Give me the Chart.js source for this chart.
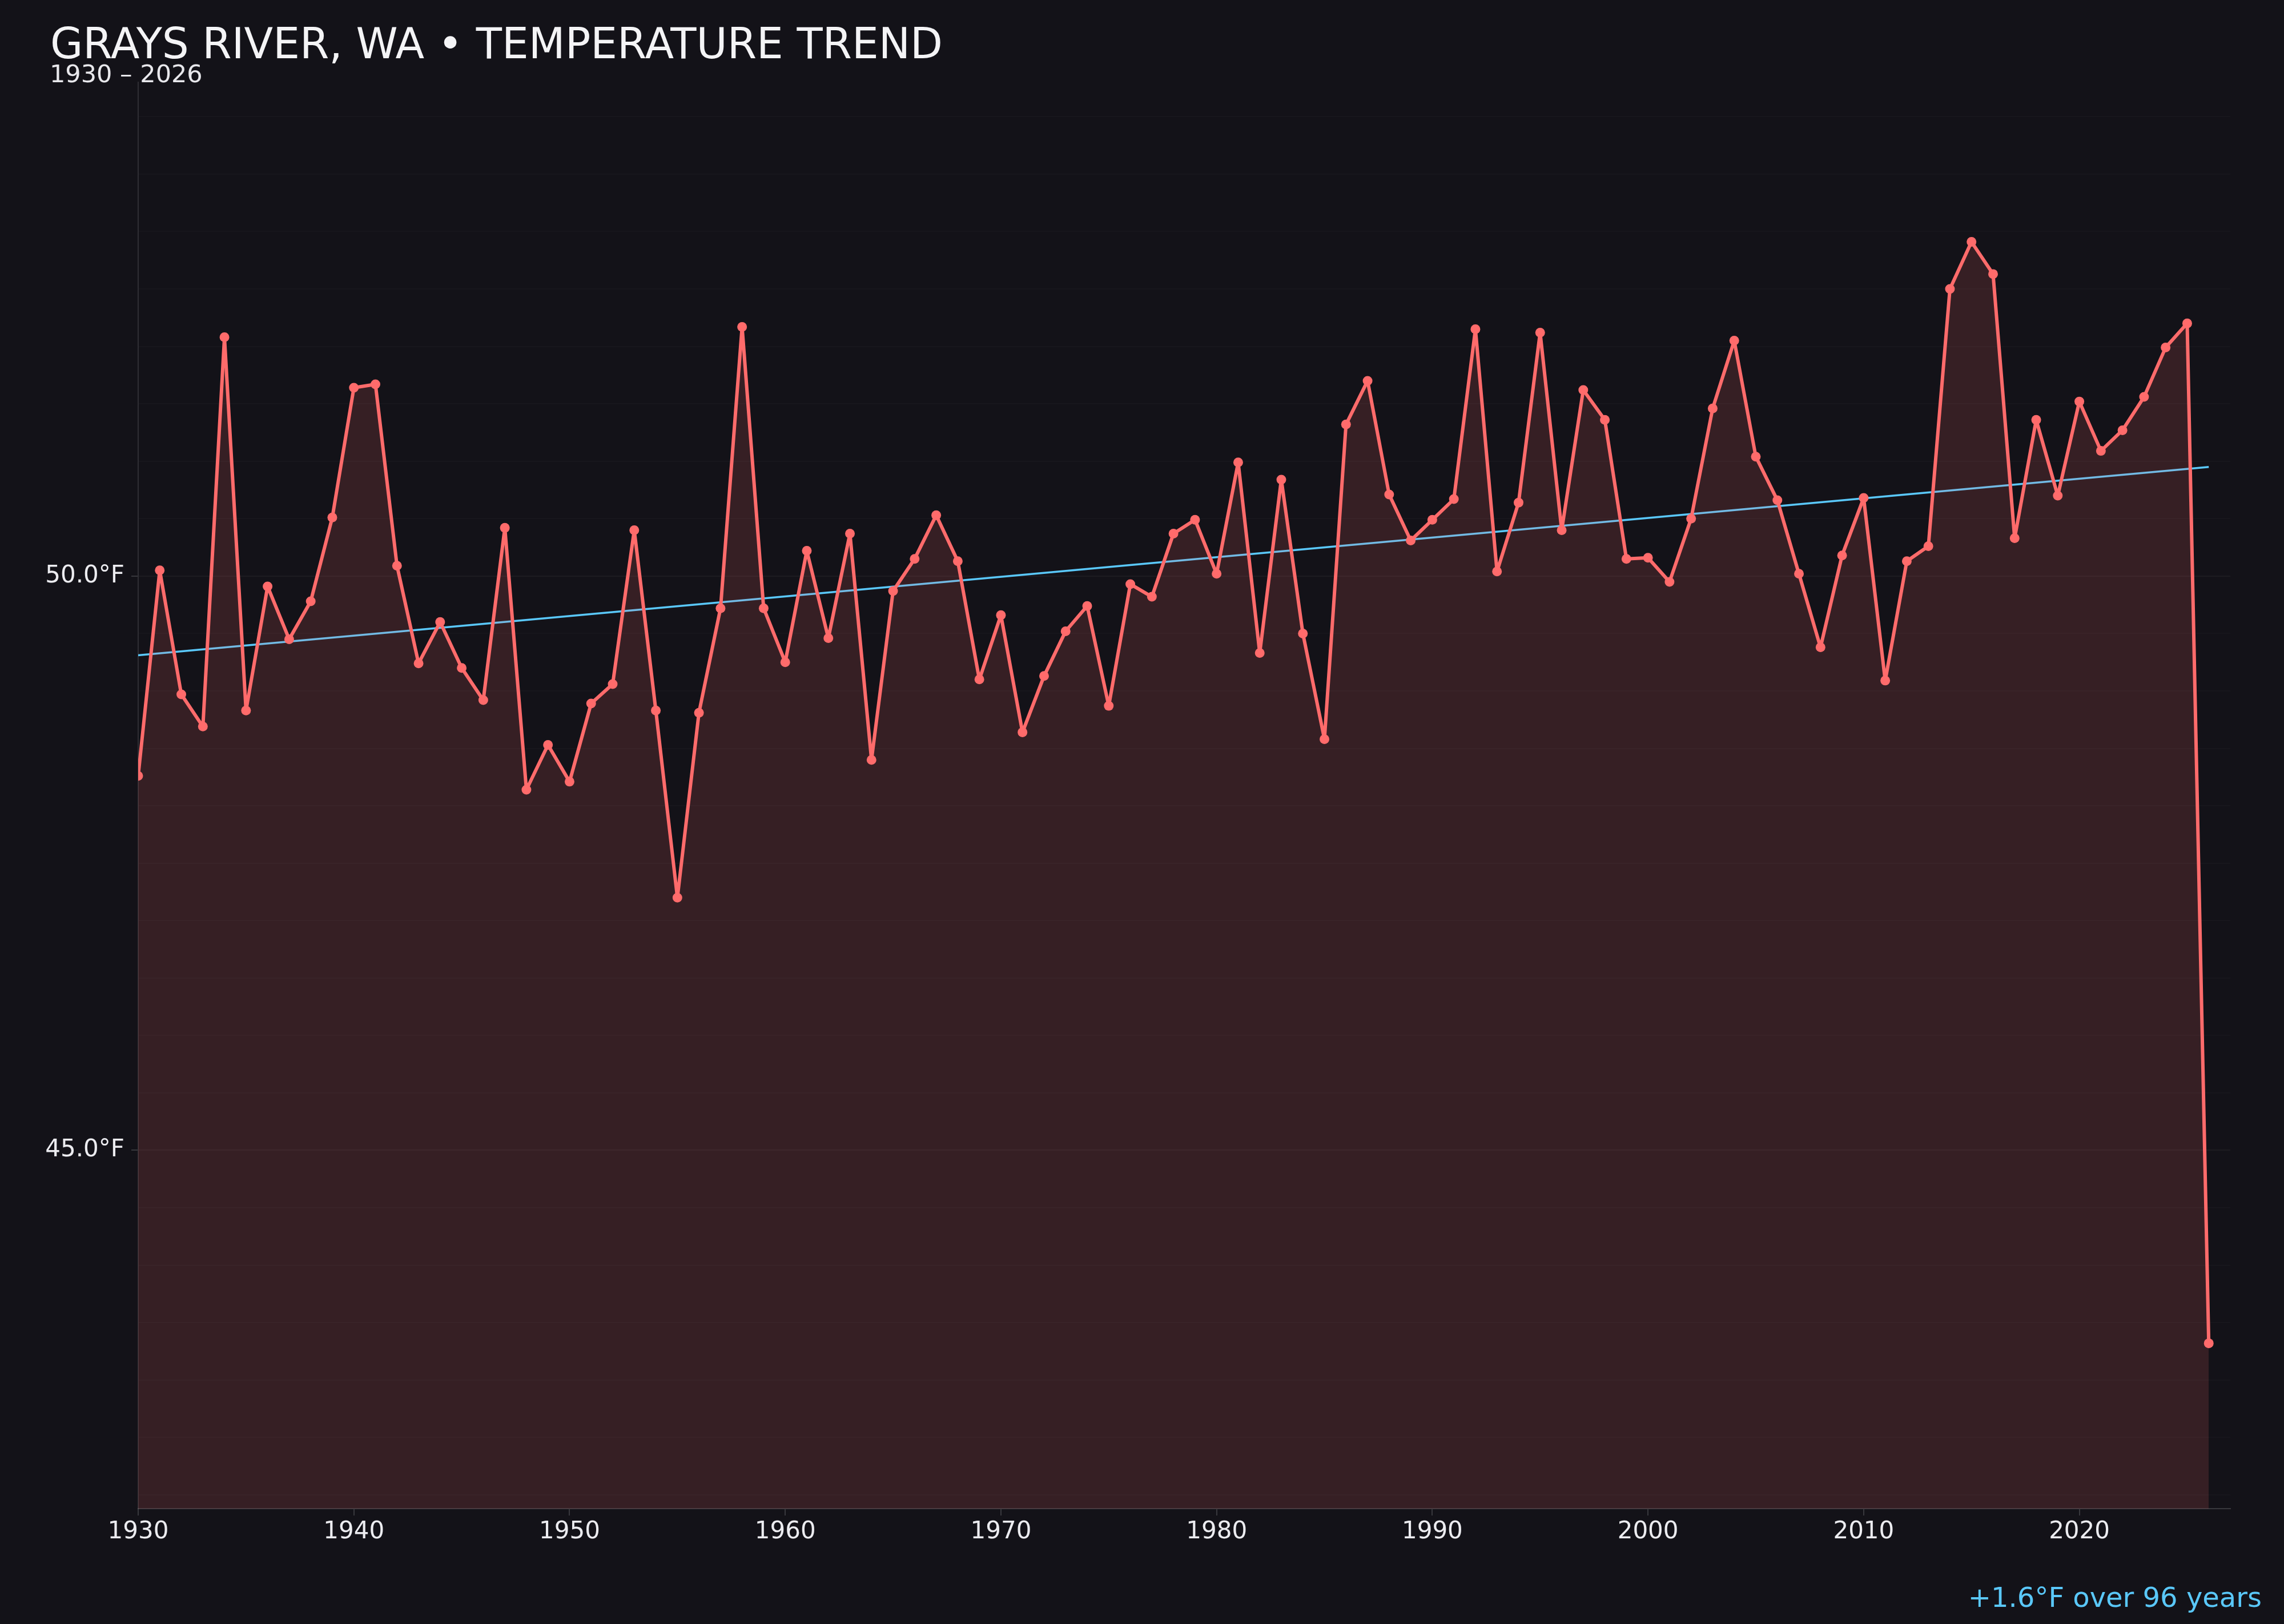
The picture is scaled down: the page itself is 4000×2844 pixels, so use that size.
<!DOCTYPE html>
<html lang="en">
<head>
    <meta charset="UTF-8">
    <title>Grays River temperature trend</title>
    <script src="https://cdn.jsdelivr.net/npm/chart.js@4.4.1/dist/chart.umd.min.js"></script>
    <style>
        html, body { margin: 0; padding: 0; background: #131218; overflow: hidden; }
        #chart { display: block; width: 4000px; height: 2844px; }
    </style>
</head>
<body>
    <canvas id="chart" width="4000" height="2844"></canvas>
    <script>
    // yearly mean temperature
    const years = [
        1930, 1931, 1932, 1933, 1934, 1935, 1936, 1937, 1938, 1939,
        1940, 1941, 1942, 1943, 1944, 1945, 1946, 1947, 1948, 1949,
        1950, 1951, 1952, 1953, 1954, 1955, 1956, 1957, 1958, 1959,
        1960, 1961, 1962, 1963, 1964, 1965, 1966, 1967, 1968, 1969,
        1970, 1971, 1972, 1973, 1974, 1975, 1976, 1977, 1978, 1979,
        1980, 1981, 1982, 1983, 1984, 1985, 1986, 1987, 1988, 1989,
        1990, 1991, 1992, 1993, 1994, 1995, 1996, 1997, 1998, 1999,
        2000, 2001, 2002, 2003, 2004, 2005, 2006, 2007, 2008, 2009,
        2010, 2011, 2012, 2013, 2014, 2015, 2016, 2017, 2018, 2019,
        2020, 2021, 2022, 2023, 2024, 2025, 2026
    ];
    const temps = [
        48.26, 50.05, 48.97, 48.69, 52.08, 48.83, 49.91, 49.45, 49.78, 50.51,
        51.64, 51.67, 50.09, 49.24, 49.60, 49.20, 48.92, 50.42, 48.14, 48.53,
        48.21, 48.89, 49.06, 50.40, 48.83, 47.20, 48.81, 49.72, 52.17, 49.72,
        49.25, 50.22, 49.46, 50.37, 48.40, 49.87, 50.15, 50.53, 50.13, 49.10,
        49.66, 48.64, 49.13, 49.52, 49.74, 48.87, 49.93, 49.82, 50.37, 50.49,
        50.02, 50.99, 49.33, 50.84, 49.50, 48.58, 51.32, 51.70, 50.71, 50.31,
        50.49, 50.67, 52.15, 50.04, 50.64, 52.12, 50.40, 51.62, 51.36, 50.15,
        50.16, 49.95, 50.50, 51.46, 52.05, 51.04, 50.66, 50.02, 49.38, 50.18,
        50.68, 49.09, 50.13, 50.26, 52.50, 52.91, 52.63, 50.33, 51.36, 50.70,
        51.52, 51.09, 51.27, 51.56, 51.99, 52.20, 43.32
    ];
    // end points of the linear trend line
    const trendYears = [1930, 2026];
    const trendTemps = [49.31, 50.95];

    const yMin = 41.88, yMax = 54.30;
    const xMin = 1930, xMax = 2027;
    const labelTicks = [45, 50];

    const FONT = '"DejaVu Sans", sans-serif';

    const series = years.map((yr, i) => ({ x: yr, y: temps[i] }));
    const trend = trendYears.map((yr, i) => ({ x: yr, y: trendTemps[i] }));

    // title, subtitle and the trend note
    const textPlugin = {
        id: 'texts',
        afterDraw(chart) {
            const c = chart.ctx;
            c.save();
            c.textBaseline = 'alphabetic';
            c.textAlign = 'left';
            c.fillStyle = '#f4f4f6';
            c.font = '74px ' + FONT;
            c.fillText('GRAYS RIVER, WA \u2022 TEMPERATURE TREND', 88, 102);
            c.fillStyle = '#e8e8ec';
            c.font = '43px ' + FONT;
            c.fillText('1930 \u2013 2026', 87, 144);
            c.textAlign = 'right';
            c.fillStyle = '#5ac8fa';
            c.font = '48px ' + FONT;
            c.fillText('+1.6\u00b0F over 96 years', 3961, 2814);
            c.restore();
        }
    };

    Chart.defaults.font.family = FONT;

    new Chart(document.getElementById('chart'), {
        type: 'line',
        data: {
            datasets: [
                {
                    data: series,
                    borderColor: '#ff6b6b',
                    backgroundColor: 'rgba(255,107,107,0.15)',
                    borderWidth: 6,
                    borderJoinStyle: 'round',
                    borderCapStyle: 'round',
                    fill: 'start',
                    tension: 0,
                    pointRadius: 8.5,
                    pointBorderWidth: 0,
                    pointBackgroundColor: '#ff6b6b'
                },
                {
                    data: trend,
                    borderColor: '#5ac8fa',
                    borderWidth: 3.5,
                    pointRadius: 0,
                    fill: false,
                    tension: 0
                }
            ]
        },
        options: {
            responsive: false,
            devicePixelRatio: 1,
            animation: false,
            layout: { padding: { top: 144, right: 94, left: 0, bottom: 0 } },
            plugins: {
                legend: { display: false },
                tooltip: { enabled: false },
                title: { display: false }
            },
            scales: {
                x: {
                    type: 'linear',
                    min: xMin,
                    max: xMax,
                    afterFit: s => { s.height = 202; },
                    border: { color: 'rgba(255,255,255,0.16)', width: 2 },
                    grid: {
                        drawOnChartArea: false,
                        tickLength: 12,
                        tickColor: 'rgba(255,255,255,0.16)',
                        lineWidth: 2
                    },
                    ticks: {
                        stepSize: 10,
                        includeBounds: false,
                        padding: 4,
                        maxRotation: 0,
                        autoSkip: false,
                        color: '#ececf0',
                        font: { size: 42 },
                        callback: v => String(v)
                    }
                },
                y: {
                    min: yMin,
                    max: yMax,
                    afterFit: s => { s.width = 242; },
                    border: { color: 'rgba(255,255,255,0.12)', width: 2 },
                    grid: {
                        lineWidth: 2,
                        tickLength: 12,
                        color: ctx => labelTicks.includes(ctx.tick.value) ? 'rgba(255,255,255,0.045)' : 'rgba(255,255,255,0.02)',
                        tickColor: ctx => labelTicks.includes(ctx.tick.value) ? 'rgba(255,255,255,0.16)' : 'rgba(0,0,0,0)'
                    },
                    ticks: {
                        stepSize: 0.5,
                        maxTicksLimit: 40,
                        includeBounds: false,
                        autoSkip: false,
                        padding: 12,
                        color: '#ececf0',
                        font: { size: 42 },
                        callback: v => labelTicks.includes(v) ? v.toFixed(1) + '\u00b0F' : ''
                    }
                }
            }
        },
        plugins: [textPlugin]
    });
    </script>
</body>
</html>
